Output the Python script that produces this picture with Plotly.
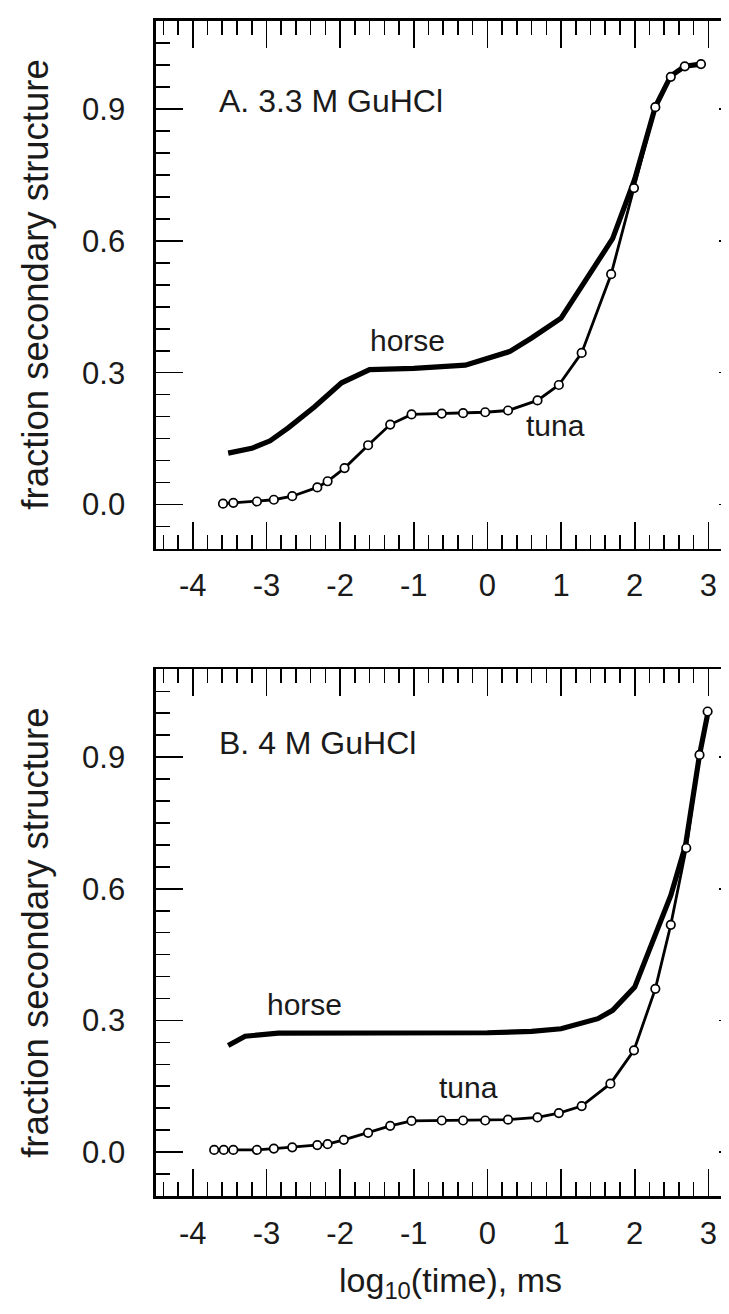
import plotly.graph_objects as go

# ---------------- data (log10 time in ms, fraction secondary structure) ----------------
# Panel A: 3.3 M GuHCl
tuna_a_x = [-3.59, -3.45, -3.13, -2.90, -2.65, -2.31, -2.17, -1.94, -1.62, -1.32, -1.03,
            -0.62, -0.33, -0.03, 0.28, 0.68, 0.97, 1.28, 1.68, 1.99, 2.28, 2.49, 2.68, 2.90]
tuna_a_y = [0.002, 0.004, 0.007, 0.011, 0.019, 0.039, 0.053, 0.083, 0.135, 0.182, 0.205,
            0.207, 0.208, 0.210, 0.214, 0.237, 0.272, 0.345, 0.524, 0.720, 0.904, 0.973, 0.997, 1.002]
horse_a_x = [-3.52, -3.20, -2.95, -2.70, -2.35, -1.98, -1.60, -1.00, -0.30, 0.00, 0.30,
             0.60, 1.00, 1.70, 2.00, 2.28, 2.49, 2.68, 2.90]
horse_a_y = [0.117, 0.128, 0.145, 0.175, 0.222, 0.277, 0.307, 0.310, 0.317, 0.332, 0.348,
             0.379, 0.424, 0.605, 0.740, 0.905, 0.975, 0.997, 1.002]

# Panel B: 4 M GuHCl
tuna_b_x = [-3.71, -3.58, -3.45, -3.13, -2.90, -2.65, -2.31, -2.17, -1.95, -1.62, -1.32,
            -1.03, -0.62, -0.33, -0.03, 0.28, 0.68, 0.97, 1.28, 1.67, 1.99, 2.28, 2.49,
            2.70, 2.88, 2.99]
tuna_b_y = [0.005, 0.005, 0.005, 0.005, 0.008, 0.011, 0.016, 0.018, 0.028, 0.044, 0.060,
            0.071, 0.072, 0.072, 0.072, 0.074, 0.079, 0.089, 0.105, 0.156, 0.232, 0.372,
            0.518, 0.693, 0.905, 1.004]
horse_b_x = [-3.52, -3.29, -2.84, -2.00, -1.00, 0.00, 0.60, 1.00, 1.50, 1.70, 2.00,
             2.49, 2.69, 2.88, 3.00]
horse_b_y = [0.243, 0.264, 0.271, 0.271, 0.271, 0.272, 0.275, 0.281, 0.304, 0.323, 0.376,
             0.585, 0.699, 0.905, 1.006]

x_tick_vals = [-4, -3, -2, -1, 0, 1, 2, 3]
y_tick_vals = [0.0, 0.3, 0.6, 0.9]
panel_labels = ["A. 3.3 M GuHCl", "B. 4 M GuHCl"]
series_labels = ["horse", "tuna"]
x_title = "log<sub>10</sub>(time), ms"
y_title = "fraction secondary structure"

# ---------------- styling ----------------
FONT = "Liberation Sans, Arial, Helvetica, sans-serif"
TXT = "#1a1a1a"
W, H = 729, 1314
ML, MT, MB = 147.7, 13.3, 126
XR = [-4.5, 3.389]
YR = [-0.1, 1.1]
plot_w = W - ML
plot_h = H - MT - MB
dom_a = [(1188 - 540.7) / plot_h, 1.0]
dom_b = [0.0, (1188 - 661.5) / plot_h]

fig = go.Figure()


def add_panel(xs_t, ys_t, xs_h, ys_h, xa, ya):
    fig.add_trace(go.Scatter(x=xs_h, y=ys_h, mode="lines", xaxis=xa, yaxis=ya,
                             line=dict(color="black", width=5.2), showlegend=False,
                             hoverinfo="skip"))
    fig.add_trace(go.Scatter(x=xs_t, y=ys_t, mode="lines+markers", xaxis=xa, yaxis=ya,
                             line=dict(color="black", width=2.8),
                             marker=dict(symbol="circle", size=8.5, color="white",
                                         line=dict(color="black", width=1.7)),
                             showlegend=False, hoverinfo="skip"))


add_panel(tuna_a_x, tuna_a_y, horse_a_x, horse_a_y, "x", "y")
add_panel(tuna_b_x, tuna_b_y, horse_b_x, horse_b_y, "x2", "y2")

# invisible traces so the right-hand tick axes get drawn
fig.add_trace(go.Scatter(x=[tuna_a_x[0]], y=[tuna_a_y[0]], xaxis="x", yaxis="y3",
                         mode="markers", marker=dict(opacity=0), showlegend=False,
                         hoverinfo="skip"))
fig.add_trace(go.Scatter(x=[tuna_b_x[0]], y=[tuna_b_y[0]], xaxis="x2", yaxis="y4",
                         mode="markers", marker=dict(opacity=0), showlegend=False,
                         hoverinfo="skip"))

tickfont = dict(family=FONT, size=31, color=TXT)

xcommon = dict(range=XR, autorange=False, tickmode="array", tickvals=x_tick_vals,
               ticktext=[str(v) for v in x_tick_vals],
               ticks="inside", ticklen=27, tickwidth=1.6, tickcolor="black",
               minor=dict(dtick=0.2, tick0=0, ticks="inside", ticklen=14, tickwidth=1.6,
                          tickcolor="black", showgrid=False),
               showline=True, linewidth=2.6, linecolor="black", mirror="ticks",
               showgrid=False, zeroline=False, tickfont=tickfont, ticklabelstandoff=8,
               fixedrange=True)
ycommon = dict(range=YR, autorange=False, tickmode="array", tickvals=y_tick_vals,
               ticktext=["%.1f" % v for v in y_tick_vals],
               ticks="inside", ticklen=27, tickwidth=1.6, tickcolor="black",
               minor=dict(dtick=0.05, tick0=0, ticks="inside", ticklen=14, tickwidth=1.6,
                          tickcolor="black", showgrid=False),
               showline=True, linewidth=2.6, linecolor="black",
               showgrid=False, zeroline=False, tickfont=tickfont, ticklabelstandoff=22,
               fixedrange=True)
yright = dict(range=YR, autorange=False, side="right", tickmode="array",
              tickvals=y_tick_vals, showticklabels=False,
              ticks="inside", ticklen=18, tickwidth=1.6, tickcolor="black",
              minor=dict(dtick=0.05, tick0=0, ticks="inside", ticklen=5.5, tickwidth=1.6,
                         tickcolor="black", showgrid=False),
              showline=False, showgrid=False, zeroline=False, fixedrange=True)

fig.update_layout(
    width=W, height=H,
    margin=dict(l=ML, r=0, t=MT, b=MB, pad=0),
    paper_bgcolor="white", plot_bgcolor="white",
    showlegend=False,
    xaxis=dict(xcommon, anchor="y", domain=[0, 1]),
    yaxis=dict(ycommon, anchor="x", domain=dom_a),
    xaxis2=dict(xcommon, anchor="y2", domain=[0, 1]),
    yaxis2=dict(ycommon, anchor="x2", domain=dom_b),
    yaxis3=dict(yright, overlaying="y", anchor="x"),
    yaxis4=dict(yright, overlaying="y2", anchor="x2"),
)

lab = dict(family=FONT, size=30, color=TXT)
title_font = dict(family=FONT, size=36.5, color=TXT)
ann = [
    dict(x=-3.67, y=0.919, xref="x", yref="y", text=panel_labels[0], showarrow=False,
         xanchor="left", yanchor="middle", font=dict(family=FONT, size=32, color=TXT)),
    dict(x=-1.08, y=0.373, xref="x", yref="y", text=series_labels[0], showarrow=False,
         xanchor="center", yanchor="middle", font=lab),
    dict(x=0.92, y=0.18, xref="x", yref="y", text=series_labels[1], showarrow=False,
         xanchor="center", yanchor="middle", font=lab),
    dict(x=-3.67, y=0.932, xref="x2", yref="y2", text=panel_labels[1], showarrow=False,
         xanchor="left", yanchor="middle", font=dict(family=FONT, size=32, color=TXT)),
    dict(x=-2.48, y=0.336, xref="x2", yref="y2", text=series_labels[0], showarrow=False,
         xanchor="center", yanchor="middle", font=lab),
    dict(x=-0.26, y=0.147, xref="x2", yref="y2", text=series_labels[1], showarrow=False,
         xanchor="center", yanchor="middle", font=lab),
    dict(x=(27.5 - ML) / plot_w, y=(1188 - 277) / plot_h, xref="paper", yref="paper",
         text=y_title, textangle=-90, showarrow=False, xanchor="center", yanchor="middle",
         font=title_font),
    dict(x=(27.5 - ML) / plot_w, y=(1188 - 925) / plot_h, xref="paper", yref="paper",
         text=y_title, textangle=-90, showarrow=False, xanchor="center", yanchor="middle",
         font=title_font),
    dict(x=(442.5 - ML) / plot_w, y=(1188 - 1274) / plot_h, xref="paper", yref="paper",
         text=x_title, showarrow=False, xanchor="center", yanchor="middle",
         font=dict(family=FONT, size=34, color=TXT)),
]
fig.update_layout(annotations=ann)

fig.write_html("out.html", config=dict(displayModeBar=False, staticPlot=True))
